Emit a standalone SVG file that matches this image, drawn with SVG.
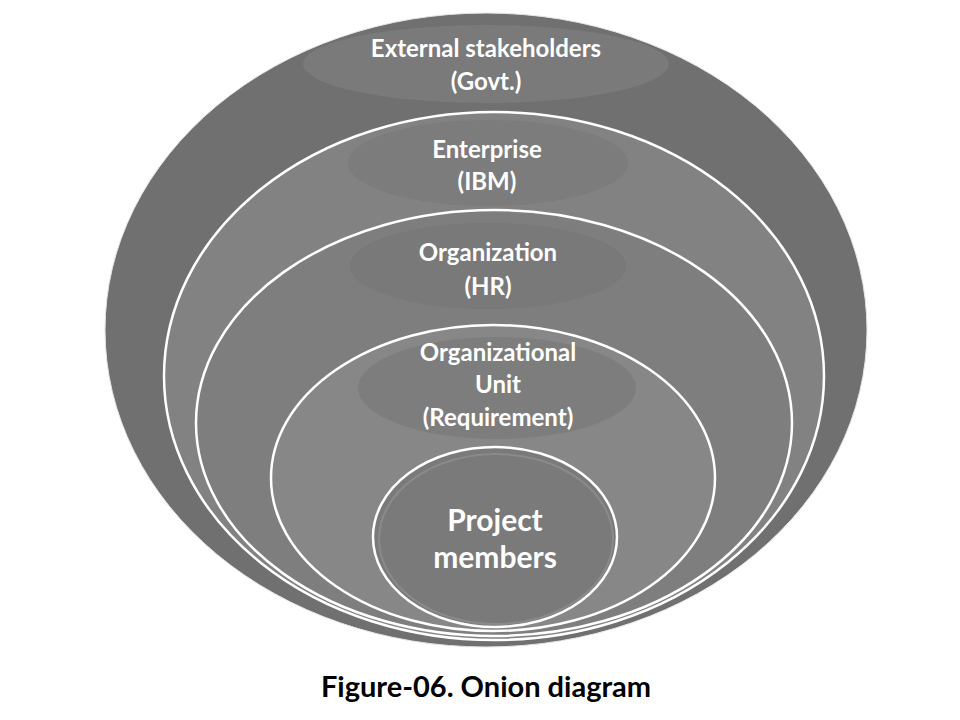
<svg xmlns="http://www.w3.org/2000/svg" width="960" height="720" viewBox="0 0 960 720">
<style>
.ring{stroke:#ffffff;stroke-width:2.5}
.lbl{font-family:Lato,"Open Sans","Liberation Sans",sans-serif;font-weight:bold;fill:#ffffff;text-anchor:middle}
.cap{font-family:Lato,"Open Sans","Liberation Sans",sans-serif;font-weight:bold;fill:#000000;text-anchor:middle}
</style>
<rect width="960" height="720" fill="#ffffff"/>
<g id="external">
<ellipse cx="486" cy="330" rx="381" ry="317" fill="#707070" stroke="#e6e6e6" stroke-width="1"/>
<ellipse cx="486" cy="64" rx="183" ry="39" fill="#7a7a7a"/>
<text class="lbl" x="486" y="57" font-size="24">External stakeholders</text>
<text class="lbl" x="486" y="90" font-size="24">(Govt.)</text>
</g>
<g id="enterprise">
<ellipse class="ring" cx="494" cy="376" rx="330" ry="264" fill="#828282"/>
<ellipse cx="488" cy="163" rx="140" ry="43" fill="#7c7c7c"/>
<text class="lbl" x="487" y="158" font-size="24">Enterprise</text>
<text class="lbl" x="487" y="190" font-size="24">(IBM)</text>
</g>
<g id="organization">
<ellipse class="ring" cx="494" cy="423" rx="298" ry="213" fill="#7e7e7e"/>
<ellipse cx="488" cy="266" rx="138" ry="43" fill="#797979"/>
<text class="lbl" x="488" y="261" font-size="24">Organization</text>
<text class="lbl" x="488" y="295" font-size="24">(HR)</text>
</g>
<g id="organizational-unit">
<ellipse class="ring" cx="493" cy="478" rx="222" ry="153" fill="#878787"/>
<ellipse cx="497" cy="388" rx="139" ry="51" fill="#7d7d7d"/>
<text class="lbl" x="498" y="361" font-size="24">Organizational</text>
<text class="lbl" x="498" y="393" font-size="24">Unit</text>
<text class="lbl" x="498" y="426" font-size="24">(Requirement)</text>
</g>
<g id="project-members">
<ellipse class="ring" cx="495" cy="537" rx="122" ry="90" fill="#7a7a7a"/>
<ellipse cx="496" cy="539" rx="117" ry="85" fill="none" stroke="#8a8a8a" stroke-width="2"/>
<text class="lbl" x="495" y="531" font-size="30">Project</text>
<text class="lbl" x="495" y="568" font-size="30">members</text>
</g>
<g id="connectors"></g>
<text class="cap" x="486" y="697" font-size="29">Figure-06. Onion diagram</text>
</svg>
